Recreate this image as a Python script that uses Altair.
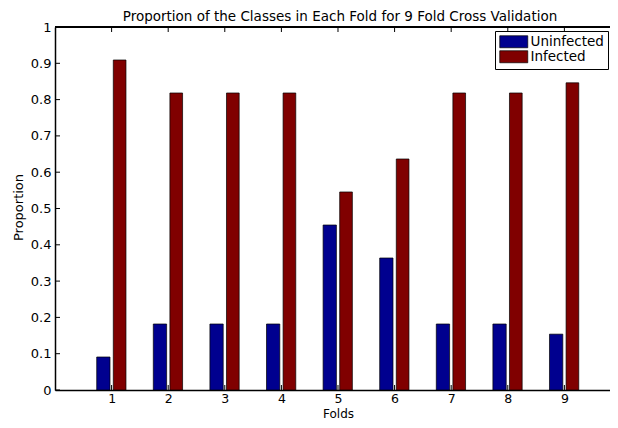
import altair as alt
import pandas as pd

# ---- data ----
folds = [1, 2, 3, 4, 5, 6, 7, 8, 9]
uninfected = [0.0909, 0.1818, 0.1818, 0.1818, 0.4545, 0.3636, 0.1818, 0.1818, 0.1538]
infected = [0.9091, 0.8182, 0.8182, 0.8182, 0.5455, 0.6364, 0.8182, 0.8182, 0.8462]
classes = ["Uninfected", "Infected"]
colors = ["#00008F", "#800000"]
y_ticks = [0, 0.1, 0.2, 0.3, 0.4, 0.5, 0.6, 0.7, 0.8, 0.9, 1]
title_text = ["Proportion of the Classes in Each Fold for 9 Fold Cross Validation"]

# ---- layout ----
W = 555
H = 363
XMAX = 9.806          # right edge of the visible part of the 0..10 axis
FONT = "DejaVu Sans"
TICK = 5

rows = []
for f, u, i in zip(folds, uninfected, infected):
    rows.append({"fold": f, "cls": classes[0], "value": u})
    rows.append({"fold": f, "cls": classes[1], "value": i})
df = pd.DataFrame(rows)
yt = pd.DataFrame({"v": y_ticks})
xt = pd.DataFrame({"f": folds})
tt = pd.DataFrame({"t": title_text})

xscale = alt.Scale(domain=[0, XMAX], nice=False, zero=False)
yscale = alt.Scale(domain=[0, 1], nice=False)

xaxis = alt.Axis(values=folds, format="d", title="Folds", ticks=False, tickSize=0,
                 grid=False, domainColor="black", domainWidth=1.5,
                 labelOverlap=False,
                 labelFont=FONT, labelFontSize=12.5, labelColor="black",
                 labelBaseline="alphabetic", labelPadding=12.5,
                 titleFont=FONT, titleFontSize=12, titleFontWeight="normal",
                 titleColor="black", titleX=283, titleY=27,
                 titleAlign="center", titleBaseline="alphabetic")
yaxis = alt.Axis(values=y_ticks, format="~g", title="Proportion", ticks=False,
                 tickSize=0, grid=False, domainColor="black", domainWidth=1.5,
                 labelOverlap=False,
                 labelFont=FONT, labelFontSize=13, labelColor="black",
                 labelPadding=4, labelAlign="right", labelBaseline="middle",
                 titleFont=FONT, titleFontSize=13, titleFontWeight="normal",
                 titleColor="black", titleX=-37, titleY=180, titleAngle=270,
                 titleAlign="center", titleBaseline="middle")

bars = alt.Chart(df).transform_calculate(
    x0="datum.fold + (datum.cls == 'Uninfected' ? -0.263 : 0.03)",
    x1="datum.fold + (datum.cls == 'Uninfected' ? -0.028 : 0.254)",
).mark_bar(stroke="black", strokeWidth=0.7).encode(
    x=alt.X("x0:Q", scale=xscale, axis=xaxis),
    x2="x1:Q",
    y=alt.Y("value:Q", scale=yscale, axis=yaxis),
    y2=alt.datum(0),
    color=alt.Color("cls:N", scale=alt.Scale(domain=classes, range=colors),
                    legend=alt.Legend(title=None, orient="none", legendX=440, legendY=4,
                                      symbolType="M-1,-1H3.667V1H-1Z", symbolSize=144,
                                      symbolStrokeColor="black", symbolStrokeWidth=0.7,
                                      symbolOpacity=1,
                                      strokeColor="black", fillColor="white", padding=4,
                                      labelFont=FONT, labelFontSize=13.5, labelColor="black",
                                      labelOffset=18, rowPadding=-2)),
)

left_ticks = alt.Chart(yt).mark_rule(color="black", strokeWidth=1).encode(
    y=alt.Y("v:Q", scale=yscale, axis=yaxis), x=alt.value(0), x2=alt.value(TICK))
top_ticks = alt.Chart(xt).mark_rule(color="black", strokeWidth=1).encode(
    x=alt.X("f:Q", scale=xscale, axis=xaxis), y=alt.value(0), y2=alt.value(TICK))
bottom_ticks = alt.Chart(xt).mark_rule(color="black", strokeWidth=1).encode(
    x=alt.X("f:Q", scale=xscale, axis=xaxis), y=alt.value(H - TICK), y2=alt.value(H))
top_line = alt.Chart(xt).mark_rule(color="black", strokeWidth=1.5).encode(
    x=alt.value(0), x2=alt.value(W), y=alt.value(0))
title = alt.Chart(tt).mark_text(font=FONT, fontSize=13.5, color="black", align="center",
                                baseline="alphabetic").encode(
    text="t:N", x=alt.value(285), y=alt.value(-6))

chart = alt.layer(bars, left_ticks, top_ticks, bottom_ticks, top_line, title).properties(
    width=W, height=H,
    autosize=alt.AutoSizeParams(type="none"),
    padding={"left": 47, "top": 19, "right": 0, "bottom": 30},
).configure_view(stroke=None).configure(background="white")

chart.save("out.html", embed_options={"renderer": "svg", "actions": False})
